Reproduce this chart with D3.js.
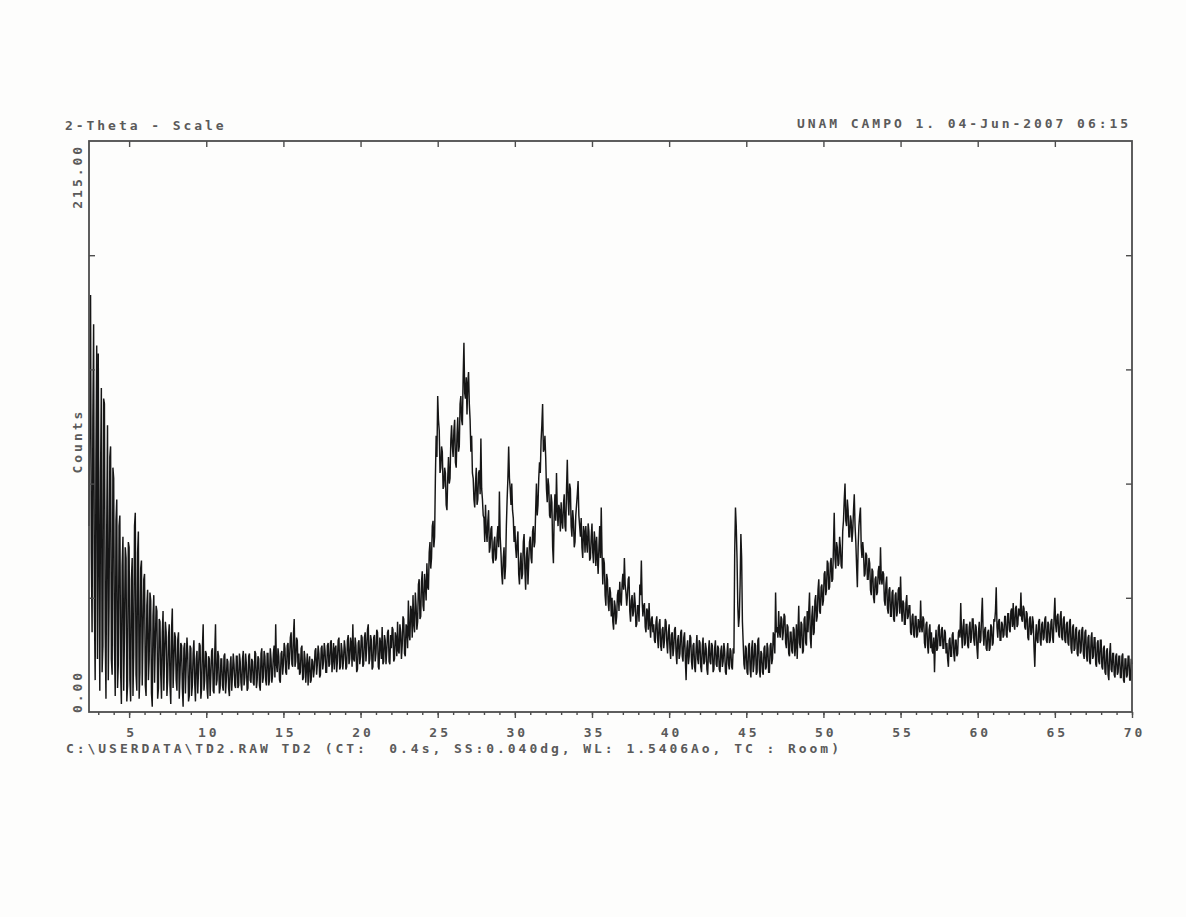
<!DOCTYPE html>
<html>
<head>
<meta charset="utf-8">
<script src="https://cdn.jsdelivr.net/npm/d3@7"></script>
<style>
  html, body { margin: 0; padding: 0; background: #fdfdfc; }
  svg { display: block; }
  text { font-family: "DejaVu Sans Mono", "Liberation Mono", monospace; fill: #5a5a5a; white-space: pre; font-weight: bold; }
</style>
</head>
<body>
<svg id="chart" width="1186" height="917"></svg>
<script>
// Powder diffraction scan, 2-theta from 2.4 to 70 deg, counts sampled every 0.05 deg
const startDeg = 2.4;
const stepDeg = 0.05;
const counts = [
  70, 120, 157, 60, 30, 110, 146, 40, 12, 95, 138, 20,                                       // 2.4
  135, 60, 8, 90, 122, 15, 25, 118, 116, 30, 5, 70, 108, 12, 40, 96, 100, 20, 14, 92,         // 3
  88, 25, 6, 72, 80, 9, 18, 70, 74, 15, 3, 55, 66, 8, 30, 62, 58, 4, 10, 64,                  // 4
  62, 12, 4, 50, 58, 6, 22, 70, 75, 14, 8, 60, 68, 5, 15, 54, 57, 10, 28, 50,                 // 5
  52, 10, 6, 40, 46, 12, 20, 45, 42, 7, 2, 36, 44, 11, 26, 40, 38, 5, 9, 35,                  // 6
  34, 14, 5, 30, 38, 8, 22, 34, 30, 6, 12, 28, 33, 10, 3, 31, 39, 9, 18, 30,                  // 7
  28, 12, 8, 27, 30, 5, 14, 26, 25, 9, 2, 24, 26, 7, 18, 28, 22, 4, 6, 25,                    // 8
  24, 6, 10, 22, 27, 11, 4, 20, 23, 7, 16, 26, 25, 5, 9, 24, 33, 8, 12, 23,                   // 9
  22, 9, 5, 21, 20, 6, 14, 23, 24, 8, 7, 22, 33, 10, 12, 23, 21, 7, 9, 20,                    // 10
  20, 10, 8, 21, 22, 7, 12, 20, 19, 9, 6, 18, 21, 8, 14, 22, 18, 10, 9, 21,                   // 11
  21, 9, 10, 22, 19, 11, 8, 20, 23, 10, 13, 22, 18, 8, 9, 21, 22, 12, 11, 20,                 // 12
  19, 11, 10, 23, 22, 9, 12, 21, 20, 10, 8, 22, 24, 11, 13, 23, 21, 12, 10, 22,               // 13
  22, 10, 12, 24, 20, 11, 14, 22, 25, 13, 33, 18, 15, 24, 21, 12, 11, 22, 23, 14,             // 14
  18, 26, 24, 15, 14, 25, 26, 16, 20, 28, 30, 18, 17, 29, 35, 17, 19, 28, 27, 16,             // 15
  22, 14, 15, 24, 25, 12, 13, 23, 20, 11, 17, 22, 10, 18, 21, 11, 12, 20, 19, 13,             // 16
  16, 23, 24, 14, 18, 25, 22, 13, 14, 24, 25, 16, 19, 26, 23, 15, 15, 25, 26, 17,             // 17
  18, 26, 27, 15, 20, 26, 16, 24, 25, 15, 19, 27, 28, 16, 17, 26, 23, 16, 20, 27,             // 18
  24, 16, 17, 27, 29, 18, 20, 28, 26, 17, 33, 20, 19, 28, 25, 15, 16, 26, 27, 18,             // 19
  21, 29, 28, 17, 18, 28, 30, 19, 24, 31, 33, 18, 20, 29, 27, 16, 17, 28, 29, 19,             // 20
  22, 31, 30, 17, 16, 28, 26, 20, 32, 18, 19, 29, 27, 18, 23, 30, 31, 19, 18, 29,             // 21
  24, 32, 31, 19, 20, 30, 28, 21, 34, 23, 22, 33, 30, 20, 25, 36, 35, 22, 21, 33,             // 22
  32, 24, 42, 29, 27, 40, 38, 28, 44, 33, 30, 45, 40, 31, 34, 48, 50, 35, 36, 49,             // 23
  53, 40, 38, 52, 48, 42, 56, 47, 46, 60, 64, 54, 58, 70, 72, 62, 66, 88, 104, 96,            // 24
  119, 110, 106, 90, 92, 100, 98, 84, 85, 92, 90, 78, 76, 88, 96, 86, 88, 102, 108, 100,      // 25
  96, 106, 110, 94, 92, 104, 111, 98, 100, 116, 119, 110, 108, 126, 139, 120, 118, 126, 112, 124, // 26
  128, 116, 110, 98, 104, 90, 88, 80, 77, 86, 92, 78, 80, 90, 91, 82, 103, 84, 80, 74,        // 27
  73, 64, 78, 68, 64, 72, 76, 60, 62, 69, 70, 58, 56, 64, 66, 57, 58, 66, 70, 62,             // 28
  83, 66, 60, 52, 48, 58, 62, 50, 55, 70, 80, 88, 100, 88, 84, 78, 86, 76, 73, 64,            // 29
  70, 62, 58, 64, 68, 52, 48, 56, 60, 50, 52, 64, 67, 54, 46, 58, 62, 48, 56, 64,             // 30
  66, 58, 56, 68, 70, 62, 64, 76, 86, 74, 78, 88, 94, 90, 102, 108, 116, 98, 99, 104,         // 31
  96, 84, 79, 88, 85, 74, 73, 82, 79, 62, 56, 74, 82, 72, 90, 76, 70, 78, 76, 68,             // 32
  79, 72, 69, 78, 82, 70, 68, 84, 95, 80, 74, 86, 84, 70, 66, 76, 72, 62, 64, 74,             // 33
  78, 82, 87, 74, 70, 66, 73, 62, 58, 70, 68, 60, 70, 64, 60, 71, 68, 57, 58, 66,             // 34
  71, 60, 56, 68, 64, 55, 66, 58, 52, 62, 70, 58, 77, 60, 48, 58, 56, 44, 40, 52,             // 35
  50, 41, 38, 47, 45, 36, 43, 34, 31, 42, 40, 33, 36, 44, 46, 38, 49, 42, 40, 48,             // 36
  52, 46, 58, 48, 45, 40, 44, 50, 51, 38, 34, 42, 44, 36, 38, 45, 41, 32, 33, 40,             // 37
  40, 34, 48, 44, 57, 42, 36, 40, 41, 32, 30, 39, 38, 31, 41, 33, 28, 35, 36, 30,             // 38
  33, 27, 26, 34, 36, 28, 24, 33, 35, 25, 23, 31, 32, 24, 27, 35, 34, 26, 22, 30,             // 39
  33, 24, 20, 29, 30, 21, 24, 31, 32, 22, 18, 27, 29, 20, 22, 30, 31, 21, 19, 28,             // 40
  30, 20, 12, 24, 27, 18, 21, 29, 28, 19, 16, 25, 26, 17, 15, 24, 29, 20, 18, 27,             // 41
  26, 17, 15, 25, 28, 18, 19, 26, 24, 16, 14, 23, 27, 19, 18, 26, 25, 15, 16, 24,             // 42
  27, 18, 17, 25, 24, 16, 15, 23, 25, 17, 19, 26, 23, 15, 14, 22, 26, 18, 16, 24,             // 43
  23, 17, 16, 24, 22, 60, 77, 70, 58, 40, 32, 36, 48, 67, 58, 34, 26, 18, 16, 25,             // 44
  24, 15, 14, 25, 26, 16, 13, 24, 27, 15, 18, 26, 25, 14, 15, 27, 28, 16, 13, 23,             // 45
  22, 15, 14, 24, 25, 16, 17, 26, 24, 15, 15, 25, 26, 18, 20, 30, 28, 22, 45, 30,             // 46
  32, 28, 38, 30, 28, 36, 35, 27, 30, 37, 36, 26, 24, 33, 32, 22, 21, 30, 30, 23,             // 47
  22, 32, 31, 21, 25, 33, 20, 30, 40, 26, 24, 34, 33, 22, 23, 35, 36, 26, 25, 38,             // 48
  30, 38, 45, 28, 24, 36, 40, 29, 30, 42, 44, 34, 36, 46, 50, 38, 37, 47, 48, 40,             // 49
  42, 52, 53, 44, 46, 57, 56, 46, 47, 56, 58, 49, 50, 62, 75, 58, 54, 64, 62, 55,             // 50
  56, 66, 62, 55, 54, 68, 72, 80, 86, 72, 70, 80, 76, 66, 66, 74, 72, 64, 68, 76,             // 51
  82, 70, 64, 55, 47, 62, 70, 74, 77, 62, 58, 64, 60, 51, 52, 60, 59, 50, 50, 58,             // 52
  56, 46, 44, 54, 53, 43, 41, 50, 51, 44, 45, 53, 55, 48, 62, 50, 48, 53, 52, 42,             // 53
  40, 48, 51, 39, 37, 46, 47, 36, 36, 45, 46, 35, 34, 44, 45, 36, 38, 46, 47, 37,             // 54
  51, 40, 34, 42, 41, 33, 33, 41, 44, 35, 36, 40, 40, 30, 29, 36, 37, 29, 28, 36,             // 55
  36, 28, 29, 35, 33, 30, 42, 32, 30, 36, 35, 26, 24, 33, 34, 25, 22, 31, 33, 24,             // 56
  30, 23, 22, 28, 15, 26, 31, 23, 24, 32, 33, 25, 25, 31, 32, 24, 24, 31, 30, 22,             // 57
  26, 20, 17, 27, 28, 21, 21, 29, 30, 22, 19, 27, 27, 21, 22, 30, 31, 28, 41, 30,             // 58
  24, 32, 35, 25, 26, 33, 33, 25, 24, 32, 34, 26, 28, 35, 35, 27, 25, 33, 32, 24,             // 59
  20, 30, 34, 26, 27, 36, 43, 30, 25, 31, 32, 24, 23, 30, 31, 23, 24, 33, 32, 25,             // 60
  26, 35, 34, 38, 47, 32, 28, 34, 35, 27, 27, 34, 33, 28, 29, 36, 36, 29, 28, 37,             // 61
  37, 31, 30, 38, 39, 32, 41, 33, 31, 39, 40, 32, 33, 39, 38, 36, 45, 35, 34, 40,             // 62
  39, 32, 31, 38, 37, 28, 27, 35, 36, 29, 30, 36, 34, 24, 17, 28, 33, 27, 26, 34,             // 63
  35, 27, 25, 33, 34, 27, 28, 35, 36, 27, 26, 34, 33, 26, 27, 34, 35, 28, 26, 36,             // 64
  43, 33, 30, 36, 37, 29, 28, 36, 38, 28, 27, 35, 36, 27, 26, 33, 34, 26, 25, 34,             // 65
  35, 24, 22, 32, 33, 23, 24, 31, 32, 22, 21, 30, 31, 22, 23, 31, 32, 22, 20, 30,             // 66
  31, 21, 19, 28, 29, 19, 18, 28, 30, 20, 21, 28, 28, 18, 17, 26, 27, 19, 18, 27,             // 67
  27, 17, 16, 24, 25, 15, 14, 23, 24, 14, 12, 22, 26, 16, 15, 22, 22, 14, 13, 21,             // 68
  22, 14, 15, 21, 21, 13, 13, 21, 22, 12, 11, 20, 20, 13, 14, 21, 21, 12, 12, 20,             // 69
  18                                                                                          // 70
];

const majorTicks = [5, 10, 15, 20, 25, 30, 35, 40, 45, 50, 55, 60, 65, 70];
const minorTicks = d3.range(3, 71);
const countTicks = [43, 86, 129, 172];
const xDomain = [2.4, 70];
const yDomain = [0, 215];
const yMaxLabel = "215.00";
const yMinLabel = "0.00";
const yTitle = "Counts";
const headerLeft = "2-Theta - Scale";
const headerRight = "UNAM CAMPO 1. 04-Jun-2007 06:15";
const footer = "C:\\USERDATA\\TD2.RAW TD2 (CT:  0.4s, SS:0.040dg, WL: 1.5406Ao, TC : Room)";

const plot = { left: 89, right: 1132, top: 141, bottom: 712 };
const svg = d3.select("#chart");

const x = d3.scaleLinear().domain(xDomain).range([plot.left, plot.right]);
const y = d3.scaleLinear().domain(yDomain).range([plot.bottom, plot.top]);

const points = counts.map((c, i) => ({ deg: startDeg + i * stepDeg, c }));

// trace
svg.append("path")
  .datum(points)
  .attr("fill", "none")
  .attr("stroke", "#161616")
  .attr("stroke-width", 1.45)
  .attr("stroke-linejoin", "miter")
  .attr("stroke-miterlimit", 3)
  .attr("d", d3.line().x(d => x(d.deg)).y(d => y(d.c)));

// frame
svg.append("rect")
  .attr("x", plot.left).attr("y", plot.top)
  .attr("width", plot.right - plot.left).attr("height", plot.bottom - plot.top)
  .attr("fill", "none").attr("stroke", "#4d4d4d").attr("stroke-width", 1.8);

const textStyle = sel => sel.attr("font-size", 13).attr("letter-spacing", 2.95);

function styleAxis(g) {
  g.select(".domain").remove();
  g.selectAll(".tick line").attr("stroke", "#4d4d4d").attr("stroke-width", 1.4);
}

// bottom axis: minor ticks each degree, major ticks labelled every 5 deg
svg.append("g")
  .attr("transform", `translate(0,${plot.bottom})`)
  .call(d3.axisBottom(x).tickValues(minorTicks).tickSize(3).tickFormat(""))
  .call(styleAxis);
const bottom = svg.append("g")
  .attr("transform", `translate(0,${plot.bottom})`)
  .call(d3.axisBottom(x).tickValues(majorTicks).tickSize(6).tickPadding(10).tickFormat(d3.format("d")))
  .call(styleAxis);
bottom.selectAll(".tick text")
  .attr("fill", "#5a5a5a")
  .attr("font-family", null)
  .attr("dx", "0.15em")
  .call(textStyle);

// top axis: inward major ticks
svg.append("g")
  .attr("transform", `translate(0,${plot.top})`)
  .call(d3.axisBottom(x).tickValues(majorTicks.slice(0, -1)).tickSize(6).tickFormat(""))
  .call(styleAxis);

// left and right axes: inward ticks
svg.append("g")
  .attr("transform", `translate(${plot.left},0)`)
  .call(d3.axisRight(y).tickValues(countTicks).tickSize(6).tickFormat(""))
  .call(styleAxis);
svg.append("g")
  .attr("transform", `translate(${plot.right},0)`)
  .call(d3.axisLeft(y).tickValues(countTicks).tickSize(6).tickFormat(""))
  .call(styleAxis);

// headers and footer
svg.append("text").attr("x", 65).attr("y", 130).text(headerLeft).call(textStyle);
svg.append("text").attr("x", 1131).attr("y", 128).attr("text-anchor", "end").text(headerRight).call(textStyle);
svg.append("text").attr("x", 66).attr("y", 753).text(footer).call(textStyle);

// y labels, rotated
const yLab = (txt, pos, anchor) => svg.append("text")
  .attr("transform", `translate(82,${pos}) rotate(-90)`)
  .attr("text-anchor", anchor)
  .text(txt).call(textStyle);
yLab(yMaxLabel, y(215) + 3, "end");
yLab(yMinLabel, y(0) + 1, "start");
yLab(yTitle, y(102), "middle");
</script>
</body>
</html>
